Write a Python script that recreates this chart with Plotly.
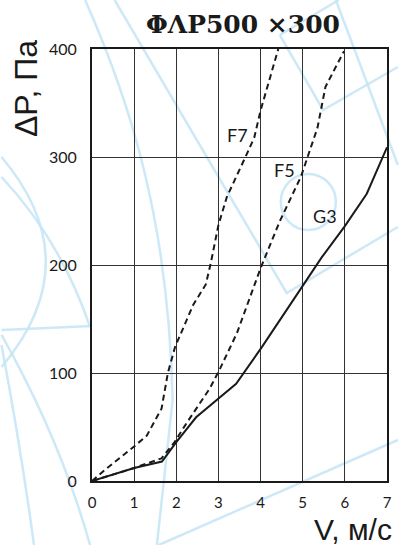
import plotly.graph_objects as go

# ---- data ----
x_ticks = [0, 1, 2, 3, 4, 5, 6, 7]
y_ticks = [0, 100, 200, 300, 400]

v_F7 = [0, 0.3, 1.0, 1.3, 1.65, 1.8, 1.97, 2.4, 2.7, 2.82, 3.0, 3.2, 3.7, 3.85, 4.0, 4.42]
dp_F7 = [0, 10, 32, 42, 67, 100, 124, 163, 182, 202, 237, 263, 305, 318, 343, 400]

v_F5 = [0, 1.0, 1.65, 1.96, 2.2, 2.8, 3.05, 3.44, 4.0, 4.45, 4.96, 5.15, 5.35, 5.45, 5.54, 5.98]
dp_F5 = [0, 12, 21, 36, 51, 86, 105, 137, 197, 240, 282, 304, 327, 347, 365, 398]

v_G3 = [0, 1.0, 1.66, 2.0, 2.47, 3.0, 3.42, 4.03, 5.0, 5.45, 6.0, 6.52, 7.0]
dp_G3 = [0, 12, 18, 36, 59, 76, 90, 124, 180, 207, 236, 266, 309]

labels = ["F7", "F5", "G3"]
label_x = [3.46, 4.57, 5.54]
label_y = [320, 288, 245]

W, H = 403, 545
L, R, T, B = 92, 11, 49, 64   # plot area in page pixels

fig = go.Figure()
for xs, ys, dash in [(v_F7, dp_F7, "6px,4px"), (v_F5, dp_F5, "6px,4px"), (v_G3, dp_G3, "solid")]:
    fig.add_trace(go.Scatter(x=xs, y=ys, mode="lines",
                             line=dict(color="#1a1a1a", width=2, dash=dash),
                             showlegend=False, hoverinfo="skip"))

for t, lx, ly in zip(labels, label_x, label_y):
    fig.add_annotation(x=lx, y=ly, text=t, showarrow=False,
                       font=dict(family="Lato", size=18, color="#1a1a1a"))

# ---- decorative watermark (page pixel coords -> paper coords) ----
pw, ph = W - L - R, H - T - B
def px(x):
    return (x - L) / pw
def py(y):
    return (H - B - y) / ph
def path(cmds):
    out = []
    for c in cmds:
        if isinstance(c, str):
            out.append(c)
        else:
            out.append(f"{px(c[0]):.4f},{py(c[1]):.4f}")
    return " ".join(out)

wm = "rgba(200,229,246,0.9)"
paths = [
    ["M", (115, 0), "L", (290, 293), "L", (403, 227)],
    ["M", (85, 0), "C", (130, 100), (170, 220), (174, 400), "L", (158, 545)],
    ["M", (0, 157), "Q", (90, 262), (0, 367)],
    ["M", (0, 177), "Q", (60, 240), (90, 327)],
    ["M", (0, 330), "L", (92, 326)],
    ["M", (0, 345), "Q", (20, 450), (33, 545)],
    ["M", (0, 335), "Q", (60, 440), (90, 545)],
    ["M", (283, 35), "L", (343, 0)],
    ["M", (283, 35), "L", (327, 110), "L", (403, 67)],
    ["M", (340, 0), "L", (403, 165)],
    ["M", (160, 545), "L", (403, 440)],
]
for p in paths:
    fig.add_shape(type="path", path=path(p), xref="paper", yref="paper",
                  line=dict(color=wm, width=2.5), layer="below")
r = 28
cx, cy = 312, 202
fig.add_shape(type="circle", xref="paper", yref="paper",
              x0=px(cx - r), x1=px(cx + r), y0=py(cy + r), y1=py(cy - r),
              line=dict(color=wm, width=2.5), layer="below")

# ---- titles ----
fig.add_annotation(xref="paper", yref="paper", x=px(246), y=py(25),
                   xanchor="center", yanchor="middle",
                   text="<b>ΦΛP500 ×300</b>", showarrow=False,
                   font=dict(family="DejaVu Serif", size=25, color="#1a1a1a"))
fig.add_annotation(xref="paper", yref="paper", x=px(25), y=py(89),
                   xanchor="center", yanchor="middle",
                   text="ΔP, Па", textangle=-90, showarrow=False,
                   font=dict(family="Liberation Sans", size=32, color="#1a1a1a"))
fig.add_annotation(xref="paper", yref="paper", x=px(399), y=py(529),
                   xanchor="right", yanchor="middle", text="V, м/с", showarrow=False,
                   font=dict(family="Liberation Sans", size=30, color="#1a1a1a"))

fig.update_xaxes(range=[0, 7], tickvals=x_ticks, ticktext=[str(v) for v in x_ticks],
                 showgrid=True, gridcolor="#333333", gridwidth=1,
                 showline=True, linecolor="#1a1a1a", linewidth=2, mirror=True,
                 zeroline=False, ticks="", ticklabelstandoff=7,
                 tickfont=dict(family="Lato", size=15, color="#1a1a1a"))
fig.update_yaxes(range=[0, 400], tickvals=y_ticks, ticktext=[str(v) for v in y_ticks],
                 showgrid=True, gridcolor="#333333", gridwidth=1,
                 showline=True, linecolor="#1a1a1a", linewidth=2, mirror=True,
                 zeroline=False, ticks="", ticklabelstandoff=10,
                 tickfont=dict(family="Lato", size=16, color="#1a1a1a"))

fig.update_layout(width=W, height=H,
                  margin=dict(l=L, r=R, t=T, b=B),
                  paper_bgcolor="white", plot_bgcolor="rgba(0,0,0,0)",
                  showlegend=False)

fig.write_html("out.html", config={"displayModeBar": False},
               post_script="document.body.style.margin='0';document.body.style.overflow='hidden';")
